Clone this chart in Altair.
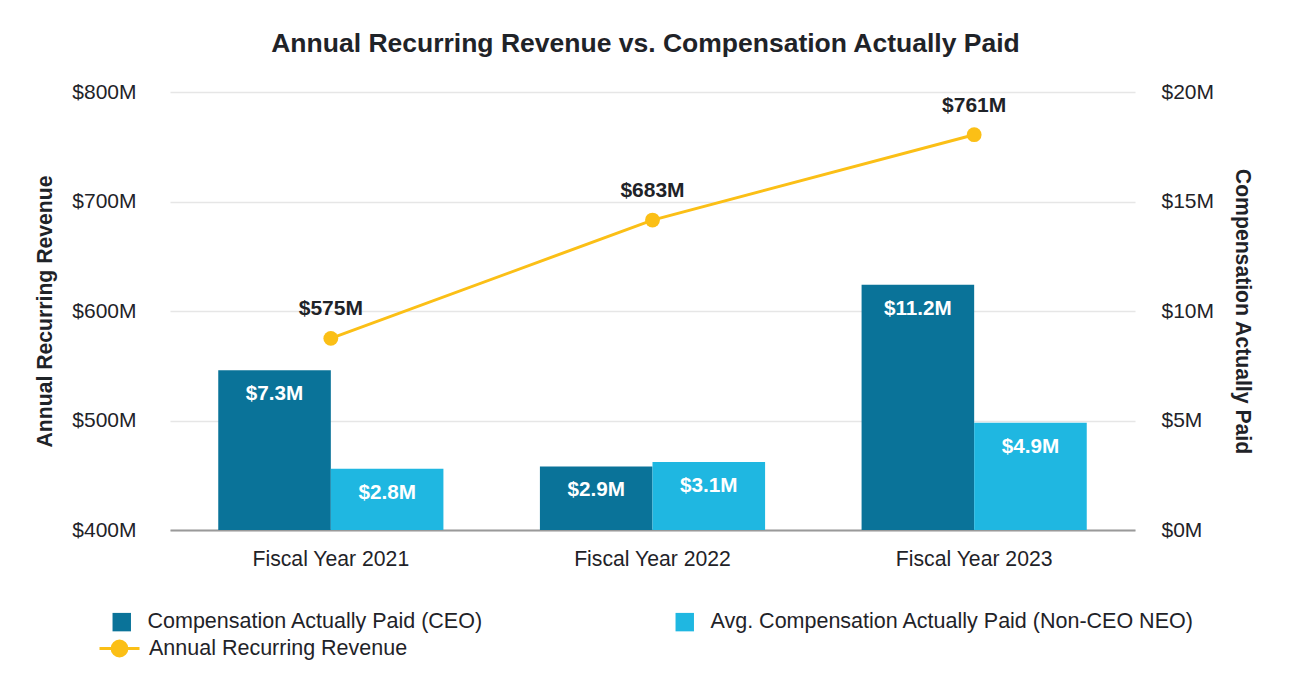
import altair as alt
import pandas as pd

years = ["Fiscal Year 2021", "Fiscal Year 2022", "Fiscal Year 2023"]
series = ["Compensation Actually Paid (CEO)", "Avg. Compensation Actually Paid (Non-CEO NEO)"]
ceo_comp = [7.3, 2.9, 11.2]
neo_comp = [2.8, 3.1, 4.9]
arr_values = [575, 683, 761]
line_name = "Annual Recurring Revenue"

FONT = "Liberation Sans"
DARK = "#1f2328"
C_CEO = "#0a7399"
C_NEO = "#1fb7e1"
C_LINE = "#fbbf16"

rows = []
for i, y in enumerate(years):
    rows.append({"year": y, "series": series[0], "comp": ceo_comp[i], "label": f"${ceo_comp[i]}M"})
    rows.append({"year": y, "series": series[1], "comp": neo_comp[i], "label": f"${neo_comp[i]}M"})
bar_df = pd.DataFrame(rows)
line_df = pd.DataFrame({"year": years, "arr": arr_values, "name": line_name,
                        "label": [f"${v}M" for v in arr_values]})

xenc = alt.X("year:N", sort=years, title=None,
             scale=alt.Scale(paddingInner=0.3, paddingOuter=0.15),
             axis=alt.Axis(labelFontSize=21.2, labelColor=DARK, labelPadding=18, ticks=False,
                           grid=False, domain=True,
                           domainColor="#9a9a9a", domainWidth=2, labelAngle=0, labelFont=FONT))
x_plain = alt.X("year:N", sort=years)

y_bar = alt.Y("comp:Q", scale=alt.Scale(domain=[0, 20], nice=False),
              axis=alt.Axis(orient="right", values=[0, 5, 10, 15, 20], grid=False, ticks=False,
                            domain=False, labelExpr="'$' + datum.value + 'M'", labelFontSize=21,
                            labelColor=DARK, labelPadding=26, labelFont=FONT,
                            title="Compensation Actually Paid", titleFontSize=21.2, titleFont=FONT,
                            titleFontWeight="bold", titleColor=DARK, titlePadding=18))

bars = alt.Chart(bar_df).mark_bar().encode(
    x=xenc,
    xOffset=alt.XOffset("series:N", sort=series, scale=alt.Scale(paddingInner=0)),
    y=y_bar,
    color=alt.Color("series:N", sort=series,
                    scale=alt.Scale(domain=series, range=[C_CEO, C_NEO]),
                    legend=alt.Legend(title=None, orient="none", legendX=-59, legendY=519,
                                      direction="horizontal", columns=2, columnPadding=190,
                                      symbolType="square", symbolSize=340, symbolStrokeWidth=0,
                                      labelFontSize=21.5, labelColor=DARK, labelFont=FONT,
                                      labelOffset=15, labelLimit=700)),
)
bar_text = alt.Chart(bar_df).mark_text(color="white", fontWeight="bold", fontSize=20.7,
                                        font=FONT, baseline="middle", dy=24).encode(
    x=x_plain,
    xOffset=alt.XOffset("series:N", sort=series),
    y=alt.Y("comp:Q", scale=alt.Scale(domain=[0, 20], nice=False)),
    text="label:N",
)
bar_layer = alt.layer(bars, bar_text)

y_line = alt.Y("arr:Q", scale=alt.Scale(domain=[400, 800], nice=False, zero=False),
               axis=alt.Axis(orient="left", values=[400, 500, 600, 700, 800], grid=True,
                             gridColor="#e6e6e6", gridWidth=1.5, ticks=False, domain=False,
                             labelExpr="'$' + datum.value + 'M'", labelFontSize=21,
                             labelColor=DARK, labelPadding=34, labelFont=FONT,
                             title="Annual Recurring Revenue", titleFontSize=21.2, titleFont=FONT,
                             titleFontWeight="bold", titleColor=DARK, titlePadding=16))

line = alt.Chart(line_df).mark_line(strokeWidth=3).encode(
    x=x_plain,
    y=y_line,
    color=alt.Color("name:N", scale=alt.Scale(domain=[line_name], range=[C_LINE]),
                    legend=alt.Legend(title=None, orient="none", legendX=-72, legendY=535,
                                      symbolType="M-1,0L1,0M0.37,0A0.37,0.37,0,1,1,-0.37,0A0.37,0.37,0,1,1,0.37,0",
                                      symbolSize=1600, symbolStrokeWidth=3,
                                      symbolFillColor=C_LINE, symbolStrokeColor=C_LINE,
                                      labelFontSize=21.5, labelColor=DARK, labelFont=FONT,
                                      labelOffset=8, labelLimit=700)),
)
pts = alt.Chart(line_df).mark_point(filled=True, size=220, opacity=1, color=C_LINE).encode(
    x=x_plain,
    y=alt.Y("arr:Q", scale=alt.Scale(domain=[400, 800], nice=False, zero=False)),
)
line_text = alt.Chart(line_df).mark_text(color=DARK, fontWeight="bold", fontSize=21,
                                          font=FONT, baseline="middle", dy=-29).encode(
    x=x_plain,
    y=alt.Y("arr:Q", scale=alt.Scale(domain=[400, 800], nice=False, zero=False)),
    text="label:N",
)
line_layer = alt.layer(line, pts, line_text)

chart = alt.layer(bar_layer, line_layer).resolve_scale(
    y="independent", color="independent"
).properties(
    width=965, height=438,
    padding={"left": 26, "top": 22, "right": 5, "bottom": 5},
    title=alt.TitleParams("Annual Recurring Revenue vs. Compensation Actually Paid",
                          fontSize=26.5, font=FONT, fontWeight="bold", color=DARK, offset=24,
                          dx=-7),
).configure(background="white").configure_view(strokeWidth=0, stroke="transparent")

chart.save("out.html", embed_options={"renderer": "svg", "actions": False})
